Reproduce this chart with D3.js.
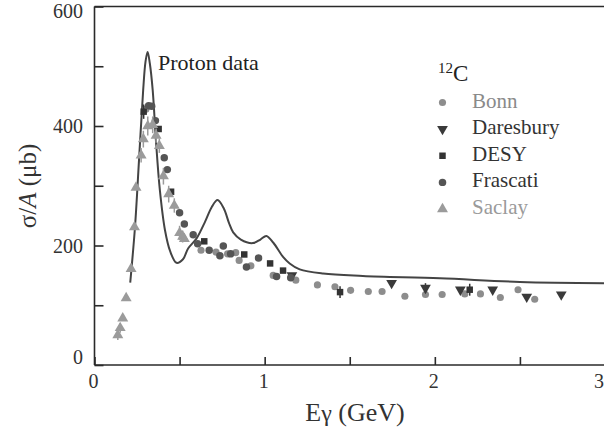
<!DOCTYPE html>
<html>
<head>
<meta charset="utf-8">
<script src="https://cdn.jsdelivr.net/npm/d3@7"></script>
<style>
  html, body { margin: 0; padding: 0; background: #fff; }
  svg { display: block; }
</style>
</head>
<body>
<svg id="chart" width="604" height="435" font-family="'Liberation Serif', 'Times New Roman', Times, 'DejaVu Serif', serif"></svg>
<script>
// ---- data (E in GeV, sigma/A in microbarn, optional error) ----
const protonCurve = [
  [0.21,138],[0.238,231],[0.262,345],[0.286,460],[0.300,508],[0.312,524],[0.325,505],
  [0.342,460],[0.361,376],[0.384,293],[0.414,226],[0.445,190],[0.482,171],[0.52,177],
  [0.55,195],[0.60,212],[0.65,240],[0.69,265],[0.723,276],[0.76,262],[0.79,238],
  [0.815,222],[0.86,210],[0.93,204],[0.975,210],[1.01,216],[1.05,205],[1.108,181],
  [1.147,170],[1.206,160],[1.343,153],[1.577,149],[2.03,145],[2.5,139],[3.0,137]
];
const bonn = [
  [0.302,428],[0.626,192],[0.714,189],[0.782,186],[0.83,188],[0.85,175],[0.919,166],
  [1.05,150],[1.183,142],[1.31,134],[1.413,131],[1.505,125],[1.609,123],[1.69,123],
  [1.824,115],[1.945,118],[2.043,118],[2.176,119],[2.268,119],[2.385,113],[2.489,126],[2.587,110]
];
const daresbury = [
  [1.16,150],[1.746,137],[1.945,129,8],[2.15,126],[2.34,126],[2.54,114],[2.743,118]
];
const desy = [
  [0.289,424,12],[0.377,395],[0.45,290],[0.645,207],[0.88,185],[1.032,170],[1.108,158],
  [1.443,122,10],[2.205,126,10]
];
const frascati = [
  [0.318,434],[0.336,433],[0.358,409],[0.41,347],[0.428,327],[0.50,255],[0.528,236],
  [0.58,218],[0.606,203],[0.674,192],[0.737,183],[0.757,199],[0.80,186],[0.893,164],
  [0.964,179],[1.07,148],[1.153,146]
];
const saclay = [
  [0.137,50,8],[0.151,62,8],[0.166,78],[0.186,112],[0.215,161],[0.235,231],[0.244,297],
  [0.274,351,12],[0.287,378,14],[0.313,400,16],[0.342,402,14],[0.362,384,12],[0.381,367,12],
  [0.405,316,14],[0.436,286,14],[0.469,267,12],[0.50,221,12],[0.518,215,10],[0.528,211]
];
const xTicks = [0, 0.5, 1, 1.5, 2, 2.5, 3];
const xTickLabels = ["0", "", "1", "", "2", "", "3"];
const yTicks = [0, 100, 200, 300, 400, 500, 600];
const yTickLabels = ["0", "", "200", "", "400", "", "600"];
const legendNames = ["Bonn", "Daresbury", "DESY", "Frascati", "Saclay"];

// ---- layout ----
const svg = d3.select("#chart");
const x = d3.scaleLinear().domain([0, 3]).range([94.5, 605]);
const y = d3.scaleLinear().domain([0, 600]).range([365, 6.5]);
const axisColor = "#2a2a2a";

const seriesDefs = [
  { name: "Bonn", data: bonn, shape: d3.symbolCircle, size: 40, color: "#8d8d8d", text: "#8a8a8a" },
  { name: "Daresbury", data: daresbury, shape: "down", size: 50, color: "#3a3a3a", text: "#333" },
  { name: "DESY", data: desy, shape: d3.symbolSquare, size: 42, color: "#333", text: "#333" },
  { name: "Frascati", data: frascati, shape: d3.symbolCircle, size: 44, color: "#555", text: "#333" },
  { name: "Saclay", data: saclay, shape: d3.symbolTriangle, size: 52, color: "#9b9b9b", text: "#9a9a9a" }
];

function symbolPath(def) {
  if (def.shape === "down") return d3.symbol(d3.symbolTriangle, def.size)();
  return d3.symbol(def.shape, def.size)();
}
function symbolTransform(def, px, py) {
  if (def.shape === "down") return `translate(${px},${py}) rotate(180)`;
  return `translate(${px},${py})`;
}

// axes frame (left, bottom, top)
const frame = svg.append("g");
frame.append("line").attr("x1", x(0)).attr("x2", x(0)).attr("y1", y(0)).attr("y2", y(600))
  .attr("stroke", axisColor).attr("stroke-width", 1.6);
frame.append("line").attr("x1", x(0)).attr("x2", x(3)).attr("y1", y(0)).attr("y2", y(0))
  .attr("stroke", axisColor).attr("stroke-width", 1.6);
frame.append("line").attr("x1", x(0)).attr("x2", x(3)).attr("y1", y(600)).attr("y2", y(600))
  .attr("stroke", axisColor).attr("stroke-width", 1.6);

// x ticks (inward)
const xAxis = d3.axisTop(x).tickValues(xTicks).tickSize(8).tickFormat("");
const gx = svg.append("g").attr("transform", `translate(0,${y(0)})`).call(xAxis);
gx.select(".domain").remove();
gx.selectAll("line").attr("stroke", axisColor).attr("stroke-width", 1.6);
svg.append("g").selectAll("text").data(xTicks).join("text")
  .attr("x", d => Math.min(x(d) - 1, 599))
  .attr("y", 388)
  .attr("text-anchor", "middle").attr("font-size", 20).attr("fill", "#333")
  .text((d, i) => xTickLabels[i]);

// y ticks (inward)
const yAxis = d3.axisRight(y).tickValues(yTicks).tickSize(9).tickFormat("");
const gy = svg.append("g").attr("transform", `translate(${x(0)},0)`).call(yAxis);
gy.select(".domain").remove();
gy.selectAll("line").attr("stroke", axisColor).attr("stroke-width", 1.6);
svg.append("g").selectAll("text").data(yTicks).join("text")
  .attr("x", 83)
  .attr("y", d => Math.min(Math.max(y(d), y(600) + 4), y(0) - 8))
  .attr("dy", "0.35em")
  .attr("text-anchor", "end").attr("font-size", 20).attr("fill", "#333")
  .text((d, i) => yTickLabels[i]);

// axis titles
const xt = svg.append("text").attr("x", 355).attr("y", 421).attr("text-anchor", "middle")
  .attr("font-size", 26).attr("fill", "#333");
xt.append("tspan").text("E");
xt.append("tspan").attr("font-size", 24).text("γ");
xt.append("tspan").text(" (GeV)");

const yt = svg.append("text").attr("transform", `translate(36,186) rotate(-90)`)
  .attr("text-anchor", "middle").attr("font-size", 25).attr("fill", "#333");
yt.append("tspan").text("σ/");
yt.append("tspan").attr("font-style", "italic").text("A");
yt.append("tspan").text(" (μb)");

// proton curve
const line = d3.line().x(d => x(d[0])).y(d => y(d[1])).curve(d3.curveCatmullRom.alpha(0.5));
svg.append("path").datum(protonCurve).attr("d", line)
  .attr("fill", "none").attr("stroke", "#444").attr("stroke-width", 2);

svg.append("text").attr("x", 158).attr("y", 70).attr("font-size", 22).attr("fill", "#222")
  .text("Proton data");

// data points (error bars + markers)
seriesDefs.forEach(def => {
  const g = svg.append("g");
  g.selectAll("line.err").data(def.data.filter(d => d[2])).join("line")
    .attr("class", "err")
    .attr("x1", d => x(d[0])).attr("x2", d => x(d[0]))
    .attr("y1", d => y(d[1] - d[2])).attr("y2", d => y(d[1] + d[2]))
    .attr("stroke", def.color).attr("stroke-width", 1.5);
  g.selectAll("path").data(def.data).join("path")
    .attr("d", symbolPath(def))
    .attr("transform", d => symbolTransform(def, x(d[0]), y(d[1])))
    .attr("fill", def.color);
});

// legend
const lg = svg.append("g");
const ct = lg.append("text").attr("x", 438).attr("y", 81).attr("fill", "#222");
ct.append("tspan").attr("font-size", 15).attr("dy", -8).text("12");
ct.append("tspan").attr("font-size", 23).attr("dy", 8).text("C");

const legendY = d3.scalePoint().domain(legendNames).range([102.5, 209]);
seriesDefs.forEach(def => {
  const cy = legendY(def.name);
  lg.append("path").attr("d", symbolPath(def))
    .attr("transform", symbolTransform(def, 442.5, cy))
    .attr("fill", def.color);
  lg.append("text").attr("x", 472).attr("y", cy + 5).attr("font-size", 21)
    .attr("fill", def.text).text(def.name);
});
</script>
</body>
</html>
